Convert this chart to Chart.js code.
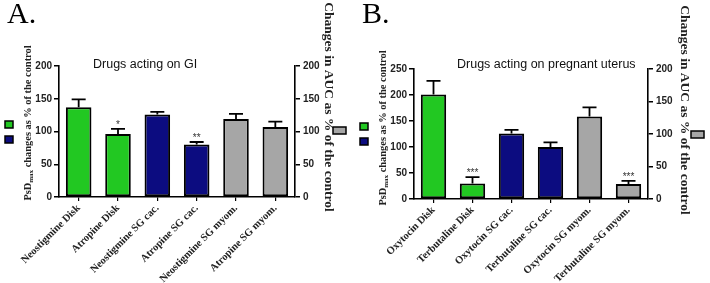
<!DOCTYPE html>
<html>
<head>
<meta charset="UTF-8">
<script src="https://cdn.jsdelivr.net/npm/chart.js"></script>
<style>
  body { margin: 0; background: #fff; }
  .panel { position: absolute; top: 0; width: 355px; height: 283px; }
</style>
</head>
<body>
<div class="panel" style="left:0"><canvas id="chartA"></canvas></div>
<div class="panel" style="left:355px"><canvas id="chartB"></canvas></div>
<script>
// Panel A - drugs acting on GI
const labelsA = ['Neostigmine Disk', 'Atropine Disk', 'Neostigmine SG cac.', 'Atropine SG cac.', 'Neostigmine SG myom.', 'Atropine SG myom.'];
const diskA = [137, 96, null, null, null, null];
const cacA = [null, null, 126, 80, null, null];
const myomA = [null, null, null, null, 119, 107];   // right axis
const errA = [12, 8, 4, 4, 8, 8];
const starsA = ['', '*', '', '**', '', ''];
const leftTicksA = [0, 200, 50];   // min, max, step
const rightTicksA = [0, 200, 50];

// Panel B - drugs acting on pregnant uterus
const labelsB = ['Oxytocin Disk', 'Terbutaline Disk', 'Oxytocin SG cac.', 'Terbutaline SG cac.', 'Oxytocin SG myom.', 'Terbutaline SG myom.'];
const diskB = [201, 30, null, null, null, null];
const cacB = [null, null, 126, 100, null, null];
const myomB = [null, null, null, null, 127, 23];    // right axis
const errB = [26, 12, 7, 9, 14, 5];
const starsB = ['', '***', '', '', '', '***'];
const leftTicksB = [0, 250, 50];
const rightTicksB = [0, 200, 50];

const GREEN = '#22c822', BLUE = '#0c0c80', GREY = '#a6a6a6';
const SERIF = '"Liberation Serif", "Times New Roman", serif';
const SANS = '"Liberation Sans", Arial, sans-serif';

// error bars + significance stars, drawn from the bar elements and scales
const errorBars = {
  id: 'errorBars',
  afterDatasetsDraw(chart) {
    const ctx = chart.ctx;
    chart.data.datasets.forEach((ds, di) => {
      const meta = chart.getDatasetMeta(di);
      const scale = chart.scales[ds.yAxisID];
      meta.data.forEach((bar, i) => {
        const v = ds.data[i];
        if (v == null) return;
        const top = scale.getPixelForValue(v + ds.errors[i]);
        ctx.save();
        ctx.strokeStyle = '#000';
        ctx.lineWidth = 1.8;
        ctx.beginPath();
        ctx.moveTo(bar.x, bar.y);
        ctx.lineTo(bar.x, top);
        ctx.moveTo(bar.x - 7, top);
        ctx.lineTo(bar.x + 7, top);
        ctx.stroke();
        if (ds.stars[i]) {
          ctx.fillStyle = '#333';
          ctx.font = '10px ' + SANS;
          ctx.textAlign = 'center';
          ctx.textBaseline = 'alphabetic';
          ctx.fillText(ds.stars[i], bar.x, top - 1);
        }
        ctx.restore();
      });
    });
  }
};

// panel letter, title, axis titles and legend keys
const deco = {
  id: 'deco',
  afterDraw(chart, args, o) {
    const ctx = chart.ctx;
    ctx.save();
    ctx.fillStyle = '#000';
    ctx.font = '30px ' + SERIF;
    ctx.textBaseline = 'alphabetic';
    ctx.fillText(o.letter, 7, 23);

    ctx.fillStyle = '#111';
    ctx.font = '12.5px ' + SANS;
    ctx.fillText(o.title, o.titleX, 68);

    // left axis title with subscript
    ctx.save();
    ctx.translate(o.leftX, o.leftY);
    ctx.rotate(-Math.PI / 2);
    ctx.fillStyle = '#222';
    const big = 'bold 10.4px ' + SERIF, small = 'bold 7px ' + SERIF;
    ctx.font = big;
    const w1 = ctx.measureText('PsD').width;
    const w3 = ctx.measureText(' changes as % of the control').width;
    ctx.font = small;
    const w2 = ctx.measureText('max').width;
    let x = -(w1 + w2 + w3) / 2;
    ctx.textBaseline = 'middle';
    ctx.font = big;
    ctx.fillText('PsD', x, 0);
    ctx.font = small;
    ctx.fillText('max', x + w1, 3);
    ctx.font = big;
    ctx.fillText(' changes as % of the control', x + w1 + w2, 0);
    ctx.restore();

    // right axis title
    ctx.save();
    ctx.translate(o.rightX, o.rightY);
    ctx.rotate(Math.PI / 2);
    ctx.fillStyle = '#222';
    ctx.font = 'bold 13.5px ' + SERIF;
    ctx.textAlign = 'center';
    ctx.textBaseline = 'middle';
    ctx.fillText('Changes in AUC as % of the control', 0, 0);
    ctx.restore();

    // legend keys
    ctx.lineWidth = 1.5;
    ctx.strokeStyle = '#000';
    [[GREEN, 5, o.keyY], [BLUE, 5, o.keyY + 15]].forEach(k => {
      ctx.fillStyle = k[0];
      ctx.fillRect(k[1], k[2], 8, 7);
      ctx.strokeRect(k[1], k[2], 8, 7);
    });
    ctx.fillStyle = GREY;
    ctx.fillRect(o.greyX, o.greyY, 13, 7);
    ctx.strokeRect(o.greyX, o.greyY, 13, 7);
    ctx.restore();
  }
};

function yAxis(t, pos, width, pad) {
  return {
    position: pos,
    min: t[0], max: t[1],
    ticks: { stepSize: t[2], color: '#222', padding: pad, font: { family: SANS, size: 10, weight: 'bold' } },
    grid: { drawOnChartArea: false, drawTicks: true, tickLength: 5, color: '#000', lineWidth: 1.5 },
    border: { display: true, color: '#000', width: 1.6 },
    afterFit: s => { s.width = width; }
  };
}

function makeChart(id, labels, disk, cac, myom, err, stars, lt, rt, geo, deco0) {
  const bar = { borderColor: '#000', borderWidth: 2, borderSkipped: false, grouped: false,
                barPercentage: 0.65, categoryPercentage: 1, errors: err, stars: stars };
  new Chart(document.getElementById(id), {
    type: 'bar',
    data: {
      labels: labels,
      datasets: [
        Object.assign({ data: disk, backgroundColor: GREEN, yAxisID: 'y' }, bar),
        Object.assign({ data: cac, backgroundColor: BLUE, yAxisID: 'y' }, bar),
        Object.assign({ data: myom, backgroundColor: GREY, yAxisID: 'y1' }, bar)
      ]
    },
    options: {
      responsive: true,
      maintainAspectRatio: false,
      animation: false,
      layout: { padding: { top: geo.top, left: 0, right: 0, bottom: 0 } },
      plugins: { legend: { display: false }, tooltip: { enabled: false }, deco: deco0 },
      scales: {
        x: {
          ticks: { color: '#222', minRotation: 45, maxRotation: 45, autoSkip: false, padding: 1,
                   font: { family: SERIF, size: 10.5, weight: 'bold' } },
          grid: { offset: false, drawOnChartArea: false, tickLength: 4, color: '#000', lineWidth: 1.2 },
          border: { display: true, color: '#000', width: 1.6 },
          afterFit: s => { s.height = geo.bottom; }
        },
        y: yAxis(lt, 'left', geo.left, 2),
        y1: yAxis(rt, 'right', geo.right, 3)
      }
    },
    plugins: [errorBars, deco]
  });
}

makeChart('chartA', labelsA, diskA, cacA, myomA, errA, starsA, leftTicksA, rightTicksA,
  { top: 66, bottom: 86, left: 59, right: 60 },
  { letter: 'A.', title: 'Drugs acting on GI', titleX: 93, leftX: 28, leftY: 123, rightX: 328, rightY: 107,
    keyY: 121, greyX: 333, greyY: 127 });

makeChart('chartB', labelsB, diskB, cacB, myomB, errB, starsB, leftTicksB, rightTicksB,
  { top: 69, bottom: 84, left: 59, right: 62 },
  { letter: 'B.', title: 'Drugs acting on pregnant uterus', titleX: 102, leftX: 28, leftY: 128, rightX: 329, rightY: 110,
    keyY: 123, greyX: 336, greyY: 131 });
</script>
</body>
</html>
